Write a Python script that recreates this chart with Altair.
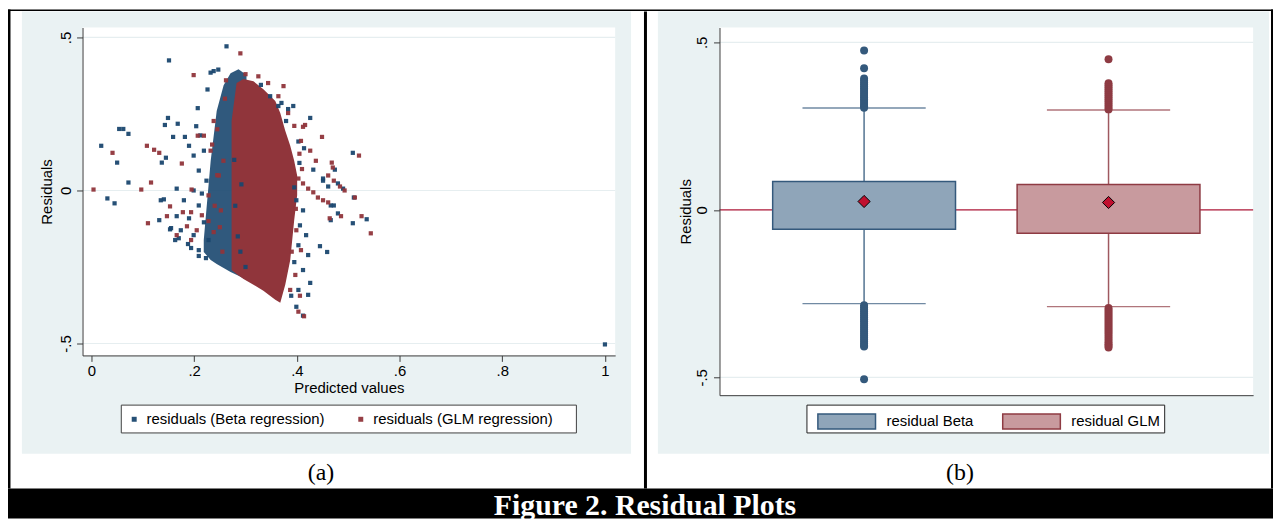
import altair as alt
import pandas as pd

# ---------------- data ----------------
# Panel (a): residuals vs predicted values (scattered, readable points)
beta_points = [
    (0.263, 0.471), (0.151, 0.425), (0.238, 0.390), (0.207, 0.269), (0.149, 0.237),
    (0.143, 0.214), (0.168, 0.218), (0.054, 0.201), (0.062, 0.201), (0.072, 0.185),
    (0.159, 0.175), (0.182, 0.175), (0.019, 0.146), (0.050, 0.091), (0.145, 0.107),
    (0.137, 0.091), (0.072, 0.026), (0.166, 0.006), (0.031, -0.026), (0.045, -0.042),
    (0.135, -0.032), (0.141, -0.029), (0.166, -0.084), (0.153, -0.127), (0.426, 0.237),
    (0.370, 0.286), (0.383, 0.266), (0.509, 0.123), (0.474, 0.068), (0.511, -0.023),
    (0.466, -0.049), (0.472, -0.049), (0.480, -0.075), (0.466, -0.097), (0.536, -0.094),
    (0.509, -0.107), (0.445, -0.182), (0.459, -0.201), (1.000, -0.503), (0.451, 0.039),
    (0.480, 0.023), (0.490, 0.006), (0.461, 0.013), (0.399, -0.032), (0.412, -0.065),
    (0.406, -0.114), (0.418, -0.146), (0.403, -0.179), (0.422, -0.211), (0.395, -0.234),
    (0.412, -0.260), (0.426, -0.302), (0.403, -0.325), (0.389, -0.344), (0.422, -0.341),
    (0.399, -0.380), (0.412, -0.409), (0.393, 0.276), (0.403, 0.160), (0.414, 0.138),
    (0.432, 0.068), (0.451, 0.032), (0.190, 0.146), (0.199, 0.114), (0.219, 0.130),
    (0.209, 0.065), (0.224, 0.032), (0.199, 0.000), (0.180, -0.032), (0.209, -0.049),
    (0.190, -0.091), (0.219, -0.104), (0.174, -0.130), (0.199, -0.146), (0.228, -0.162),
    (0.188, -0.175), (0.209, -0.195), (0.163, -0.162), (0.155, -0.123), (0.170, -0.156),
    (0.194, -0.188), (0.209, -0.214), (0.223, -0.221), (0.132, -0.097), (0.348, 0.308),
    (0.364, 0.276), (0.379, 0.227), (0.280, -0.050), (0.285, -0.150), (0.290, -0.200),
    (0.278, 0.100), (0.300, -0.250), (0.292, 0.020), (0.212, 0.180), (0.215, -0.010),
    (0.226, 0.330), (0.247, 0.395), (0.232, 0.385), (0.204, 0.210), (0.330, 0.345),
    (0.395, 0.010), (0.405, 0.090),
]
glm_points = [
    (0.290, 0.448), (0.199, 0.377), (0.041, 0.123), (0.108, 0.146), (0.122, 0.133),
    (0.132, 0.123), (0.004, 0.003), (0.097, 0.003), (0.116, 0.026), (0.110, -0.107),
    (0.153, -0.052), (0.178, -0.071), (0.194, -0.071), (0.195, 0.003), (0.207, 0.179),
    (0.176, 0.088), (0.449, 0.175), (0.521, 0.114), (0.468, 0.091), (0.470, 0.075),
    (0.461, -0.039), (0.486, -0.084), (0.464, -0.091), (0.526, -0.084), (0.544, -0.140),
    (0.513, -0.023), (0.416, 0.214), (0.412, 0.208), (0.403, 0.039), (0.412, 0.023),
    (0.422, 0.006), (0.432, -0.006), (0.441, -0.023), (0.451, -0.032), (0.461, 0.049),
    (0.472, 0.032), (0.484, 0.013), (0.493, 0.000), (0.364, 0.308), (0.383, 0.253),
    (0.395, 0.211), (0.408, 0.162), (0.426, 0.130), (0.437, 0.097), (0.374, 0.341),
    (0.344, 0.351), (0.325, 0.373), (0.399, -0.130), (0.408, -0.195), (0.397, -0.276),
    (0.387, -0.325), (0.406, -0.344), (0.403, -0.396), (0.414, -0.411), (0.219, 0.179),
    (0.232, 0.130), (0.248, 0.049), (0.228, -0.016), (0.215, -0.081), (0.238, -0.136),
    (0.205, -0.130), (0.186, -0.117), (0.166, -0.146), (0.252, -0.065), (0.257, 0.097),
    (0.238, 0.227), (0.194, -0.162), (0.147, -0.084), (0.235, 0.150), (0.245, 0.050),
    (0.240, -0.050), (0.250, -0.120), (0.255, -0.200), (0.245, 0.200), (0.260, 0.300),
    (0.228, -0.100), (0.405, 0.120), (0.410, 0.070), (0.390, -0.200), (0.398, -0.060),
    (0.262, 0.360), (0.300, 0.380),
]
# dense cores of the two clouds (outline)
beta_core_x = [0.2187, 0.2322, 0.2439, 0.2574, 0.2709, 0.2864, 0.3019]
beta_core_top = [-0.162, 0.097, 0.260, 0.344, 0.383, 0.396, 0.377]
beta_core_bottom = [-0.201, -0.227, -0.240, -0.253, -0.266, -0.279, -0.292]
glm_core_x = [0.2729, 0.2826, 0.2961, 0.3155, 0.3348, 0.3580, 0.3677, 0.3774, 0.3871, 0.3948, 0.4006]
glm_core_top = [0.227, 0.351, 0.364, 0.357, 0.331, 0.292, 0.253, 0.195, 0.146, 0.097, 0.049]
glm_core_bottom = [-0.260, -0.273, -0.289, -0.308, -0.328, -0.357, -0.367, -0.308, -0.227, -0.097, -0.016]

series_a = ["residuals (Beta regression)", "residuals (GLM regression)"]
x_ticks = [0, 0.2, 0.4, 0.6, 0.8, 1]
x_tick_labels = ["0", ".2", ".4", ".6", ".8", "1"]
y_ticks = [-0.5, 0, 0.5]
y_tick_labels = ["-.5", "0", ".5"]

# Panel (b): box plots
box_series = ["residual Beta", "residual GLM"]
box_q1 = [-0.058, -0.070]
box_q3 = [0.085, 0.076]
box_lo = [-0.280, -0.289]
box_hi = [0.304, 0.298]
box_mean = [0.025, 0.022]
beta_outliers = [0.476, 0.423, 0.392, 0.386, 0.380, 0.375, 0.369, 0.363, 0.358, 0.352,
                 0.347, 0.341, 0.336, 0.330, 0.325, 0.319, 0.314, 0.309, 0.305,
                 -0.285, -0.291, -0.297, -0.303, -0.309, -0.315, -0.321, -0.327, -0.333,
                 -0.339, -0.345, -0.351, -0.357, -0.363, -0.369, -0.375, -0.381, -0.387,
                 -0.393, -0.399, -0.405, -0.408, -0.506]
glm_outliers = [0.450, 0.378, 0.372, 0.366, 0.360, 0.354, 0.348, 0.342, 0.336, 0.330,
                0.324, 0.318, 0.312, 0.306, 0.300,
                -0.293, -0.299, -0.305, -0.311, -0.317, -0.323, -0.329, -0.335, -0.341,
                -0.347, -0.353, -0.359, -0.365, -0.371, -0.377, -0.383, -0.389, -0.395,
                -0.401, -0.406, -0.411]

caption = "Figure 2. Residual Plots"
label_a = "(a)"
label_b = "(b)"

# ---------------- styling ----------------
NAVY = "#1a476f"
MAROON = "#90353b"
BOX_FILL = ["#8fa5b9", "#c89a9e"]
BOX_EDGE = ["#34597c", "#8e3b43"]
REGION = "#eaf2f3"
GRID = "#e6eef0"
AX = "#3a3a3a"
SANS = "Liberation Sans"
SERIF = "Liberation Serif"

A_W, A_H = 536, 330
B_W, B_H = 537, 370
B_SHIFT = A_W + 105  # panel (b) origin relative to panel (a) origin (legends are shared)

one = pd.DataFrame({"k": [0]})


def lab_expr(vals, labs):
    parts = [f"abs(datum.value - ({v})) < 1e-6 ? '{l}'" for v, l in zip(vals, labs)]
    return " : ".join(parts) + " : ''"


def rect(x, x2, y, y2, fill, **kw):
    return alt.Chart(one).mark_rect(fill=fill, **kw).encode(
        x=alt.value(x), x2=alt.value(x2), y=alt.value(y), y2=alt.value(y2))


def text(x, y, s, size, color, font, weight="normal"):
    return alt.Chart(pd.DataFrame({"t": [s]})).mark_text(
        font=font, fontSize=size, fontWeight=weight, color=color,
        align="center", baseline="alphabetic").encode(
        x=alt.value(x), y=alt.value(y), text="t:N")


def y_axis(pad, tpad):
    return alt.Axis(values=y_ticks, labelExpr=lab_expr(y_ticks, y_tick_labels),
                    labelAngle=270, labelAlign="center", labelBaseline="bottom",
                    labelPadding=pad, tickSize=6, title="Residuals", titlePadding=tpad,
                    grid=False, zindex=1, domainColor=AX, tickColor=AX, domainWidth=1,
                    labelFont=SANS, labelFontSize=15, labelColor="black",
                    titleFont=SANS, titleFontSize=15, titleFontWeight="normal",
                    titleColor="black")


# ---------------- panel (a) ----------------
xA = alt.Scale(domain=[-0.0174, 1.0199], nice=False, zero=False)
yA = alt.Scale(domain=[-0.539, 0.5325], nice=False, zero=False)
xA_axis = alt.Axis(values=x_ticks, labelExpr=lab_expr(x_ticks, x_tick_labels),
                   labelAngle=0, tickSize=6, labelPadding=2, title="Predicted values",
                   titlePadding=2, grid=False, zindex=1, domainColor=AX, tickColor=AX,
                   labelFont=SANS, labelFontSize=15, labelColor="black",
                   titleFont=SANS, titleFontSize=15, titleFontWeight="normal",
                   titleColor="black")
yA_axis = y_axis(3, 4)

pts = pd.DataFrame(
    [{"x": p[0], "y": p[1], "s": series_a[0], "o": 0} for p in beta_points]
    + [{"x": p[0], "y": p[1], "s": series_a[1], "o": 1} for p in glm_points])
beta_core = pd.DataFrame({"x": beta_core_x, "top": beta_core_top, "bot": beta_core_bottom})
glm_core = pd.DataFrame({"x": glm_core_x, "top": glm_core_top, "bot": glm_core_bottom})
gridA = pd.DataFrame({"v": y_ticks})

a_layers = [
    rect(-61, 552, -16, 429, REGION),
    rect(-75, 1198, -18, -16.5, "black"),
    rect(-75, -72.5, -18, 464, "black"),
    rect(565, 568, -16, 464, "black"),
    rect(-75, 1198, 464, 494, "black"),
    text(566, 491, caption, 30, "white", SERIF, "bold"),
    text(240, 455, label_a, 24, "black", SERIF),
    rect(0, A_W, 0, A_H, "white"),
    alt.Chart(gridA).mark_rule(color=GRID, strokeWidth=1.2).encode(
        y=alt.Y("v:Q", scale=yA, axis=yA_axis)),
    alt.Chart(beta_core).mark_area(color=NAVY, opacity=0.9, interpolate="linear").encode(
        x=alt.X("x:Q", scale=xA, axis=xA_axis),
        y=alt.Y("top:Q", scale=yA, axis=yA_axis), y2="bot:Q"),
    alt.Chart(glm_core).mark_area(color=MAROON, opacity=1, interpolate="linear").encode(
        x=alt.X("x:Q", scale=xA, axis=xA_axis),
        y=alt.Y("top:Q", scale=yA, axis=yA_axis), y2="bot:Q"),
    rect(39, 497, 380, 408, "white", stroke="#404040", strokeWidth=1),
    alt.Chart(pts).mark_square(size=18, opacity=0.95).encode(
        x=alt.X("x:Q", scale=xA, axis=xA_axis),
        y=alt.Y("y:Q", scale=yA, axis=yA_axis),
        color=alt.Color("s:N", scale=alt.Scale(domain=series_a, range=[NAVY, MAROON]),
                        legend=alt.Legend(orient="none", legendX=44.5, legendY=386.5,
                                          direction="horizontal", title=None,
                                          symbolType="square", symbolSize=25,
                                          symbolStrokeWidth=0, labelOffset=5,
                                          columnPadding=28, padding=0, labelLimit=400,
                                          labelFont=SANS, labelFontSize=15,
                                          labelColor="black")),
        order="o:Q"),
]
panel_a = alt.layer(*a_layers).properties(width=A_W, height=A_H)

# ---------------- panel (b) ----------------
yB = alt.Scale(domain=[-0.5534, 0.5445], nice=False, zero=False)
xB = alt.Scale(type="point", domain=box_series, padding=0.5915)
xB_axis = alt.Axis(labels=False, ticks=False, title=None, grid=False, zindex=1,
                   domainColor=AX, domainWidth=1)
yB_axis = y_axis(4, 1)

boxes = pd.DataFrame({"s": box_series, "q1": box_q1, "q3": box_q3, "lo": box_lo,
                      "hi": box_hi, "mean": box_mean})
outl = pd.DataFrame([{"s": box_series[0], "v": v} for v in beta_outliers]
                    + [{"s": box_series[1], "v": v} for v in glm_outliers])
gridB = pd.DataFrame({"v": y_ticks})
zero = pd.DataFrame({"v": [0]})

XB = alt.X("s:N", scale=xB, axis=xB_axis)
edge_color = alt.Color("s:N", scale=alt.Scale(domain=box_series, range=BOX_EDGE), legend=None)
legB = alt.Legend(orient="none", legendX=B_SHIFT + 98, legendY=366.25, direction="horizontal",
                  title=None, symbolType="M-1,-0.26L1,-0.26L1,0.26L-1,0.26Z",
                  symbolSize=3364, symbolStrokeWidth=1.5, labelOffset=10,
                  columnPadding=26, padding=0, labelLimit=400, labelFont=SANS,
                  labelFontSize=15, labelColor="black")

b_layers = [
    rect(-62, 553, -16, 429, REGION),
    rect(555, 557, -18, 464, "black"),
    rect(0, B_W, 0, B_H, "white"),
    alt.Chart(gridB).mark_rule(color=GRID, strokeWidth=1.2).encode(
        y=alt.Y("v:Q", scale=yB, axis=yB_axis)),
    alt.Chart(zero).mark_rule(color="#b51d3d", strokeWidth=1.3).encode(
        y=alt.Y("v:Q", scale=yB, axis=yB_axis)),
    alt.Chart(boxes).mark_rule(strokeWidth=1.5, opacity=0.85).encode(
        x=XB, y=alt.Y("lo:Q", scale=yB, axis=yB_axis), y2="hi:Q", color=edge_color),
    alt.Chart(boxes).mark_tick(size=124, thickness=1.4).encode(
        x=XB, y=alt.Y("lo:Q", scale=yB, axis=yB_axis), color=edge_color),
    alt.Chart(boxes).mark_tick(size=124, thickness=1.4).encode(
        x=XB, y=alt.Y("hi:Q", scale=yB, axis=yB_axis), color=edge_color),
    alt.Chart(boxes).mark_bar(size=184, strokeWidth=1.5).encode(
        x=XB, y=alt.Y("q1:Q", scale=yB, axis=yB_axis), y2="q3:Q",
        fill=alt.Fill("s:N", scale=alt.Scale(domain=box_series, range=BOX_FILL), legend=legB),
        stroke=alt.Stroke("s:N", scale=alt.Scale(domain=box_series, range=BOX_EDGE), legend=legB)),
    alt.Chart(outl).mark_circle(size=64, opacity=1).encode(
        x=XB, y=alt.Y("v:Q", scale=yB, axis=yB_axis), color=edge_color),
    alt.Chart(boxes).mark_point(shape="diamond", filled=True, size=150, fill="#c0102f",
                                stroke="black", strokeWidth=1, opacity=1).encode(
        x=XB, y=alt.Y("mean:Q", scale=yB, axis=yB_axis)),
    rect(88, 448, 380, 408, "white", stroke="#202020", strokeWidth=1),
    text(242, 455, label_b, 24, "black", SERIF),
]
panel_b = alt.layer(*b_layers).properties(width=B_W, height=B_H)

chart = alt.hconcat(panel_a, panel_b, spacing=105, bounds="flush").properties(
    padding=0, background="white"
).configure_view(stroke=None).resolve_scale(color="independent")

chart.save("out.html", embed_options={"renderer": "svg", "actions": False})
